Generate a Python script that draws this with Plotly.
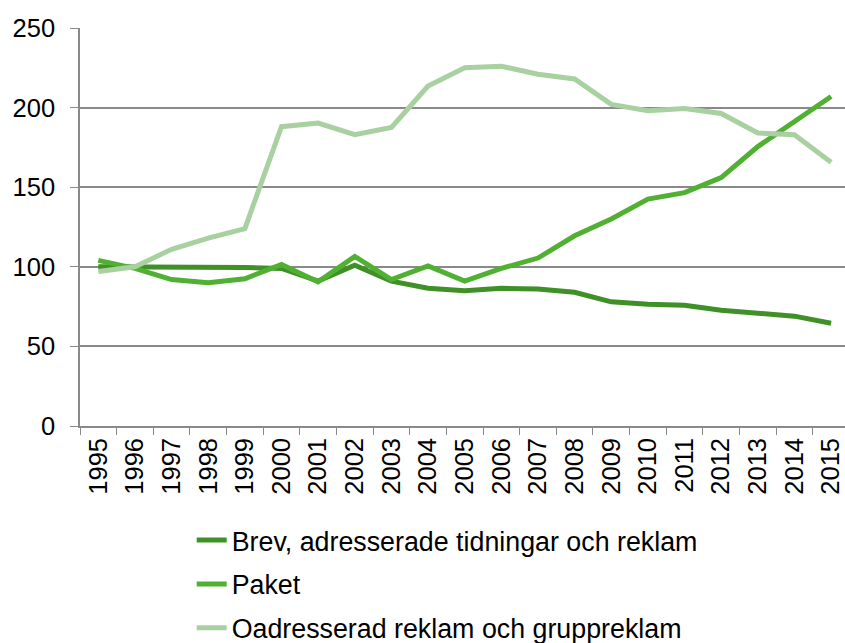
import plotly.graph_objects as go

years = [str(y) for y in range(1995, 2016)]
brev = [100, 100, 100, 100, 99.5, 99, 91, 101, 91, 86.5, 85, 86.5, 86, 84, 78, 76.5, 75.8, 72.7, 70.6, 69, 64.5]
paket = [104, 99, 92, 90, 92.5, 101.5, 90.5, 106.5, 92, 100.5, 91, 99, 105.5, 119.5, 130, 142.5, 146.6, 156, 175.5, 191.7, 207]
oadr = [97, 100, 111, 118, 124, 188, 190.3, 183, 187.5, 213.5, 225, 226, 221, 218, 202, 198, 199.5, 196.3, 184, 183, 165.6]

names = ["Brev, adresserade tidningar och reklam", "Paket", "Oadresserad reklam och gruppreklam"]
colors = ["#3f9127", "#50b032", "#a9d0a0"]
series = [brev, paket, oadr]

fig = go.Figure()
for i, (n, c, s) in enumerate(zip(names, colors, series)):
    fig.add_trace(go.Scatter(x=years, y=s, name=n, mode="lines",
                             line=dict(color=c, width=5), legendgroup=str(i)))

font = "Liberation Sans, Arial, sans-serif"
fs = 25.5
fig.update_layout(
    width=845, height=643,
    margin=dict(l=80, r=0, t=27.5, b=217, autoexpand=False),
    paper_bgcolor="white", plot_bgcolor="white",
    font=dict(family=font, size=fs, color="black"),
    showlegend=True,
    legend=dict(x=0.146, y=-0.2265, xanchor="left", yanchor="top",
                orientation="v", tracegroupgap=6,
                font=dict(family=font, size=26.8, color="black"),
                bgcolor="rgba(0,0,0,0)"),
    xaxis=dict(type="category", range=[-0.5, 20.38], tickangle=-90,
               tickson="boundaries", ticks="outside", ticklen=7,
               tickcolor="#898989", showline=True, linecolor="#898989",
               linewidth=1.5, showgrid=False, automargin=False,
               tickfont=dict(family=font, size=fs, color="black")),
    yaxis=dict(range=[0, 250], dtick=50, ticks="outside", ticklen=8,
               tickcolor="#898989", showline=True, linecolor="#898989",
               linewidth=1.5, gridcolor="#898989", gridwidth=1.5,
               zeroline=False, automargin=False, ticklabelstandoff=10,
               tickfont=dict(family=font, size=fs, color="black")),
)
fig.write_html("out.html", config={"displayModeBar": False},
               post_script="document.body.style.margin='0';document.body.style.overflow='hidden';")
